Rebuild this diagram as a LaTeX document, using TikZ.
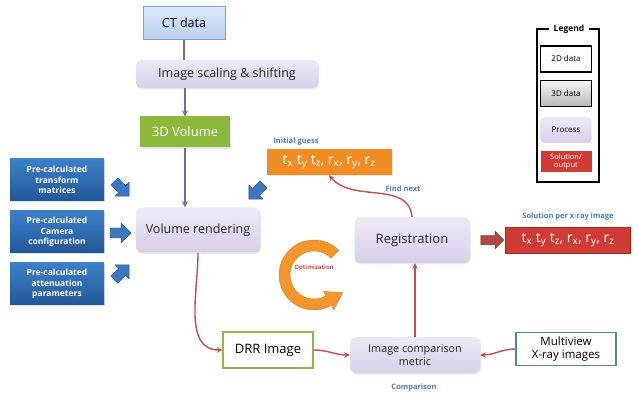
\documentclass[tikz,border=0pt]{standalone}
\usepackage{fontspec}
\setmainfont{Open Sans}
\usetikzlibrary{arrows,calc,shapes.arrows,shadows}

\definecolor{procTop}{HTML}{EEE9F6}
\definecolor{procBot}{HTML}{D8CEEA}
\definecolor{ctTop}{HTML}{DCE8F8}
\definecolor{ctBot}{HTML}{B9D0F0}
\definecolor{ctEdge}{HTML}{7EA2D4}
\definecolor{volGreen}{HTML}{8CB83C}
\definecolor{preTop}{HTML}{3D80C8}
\definecolor{preBot}{HTML}{215797}
\definecolor{arrBlue}{HTML}{3B78C0}
\definecolor{guessOrange}{HTML}{F08C22}
\definecolor{solRed}{HTML}{D13B36}
\definecolor{flowRed}{HTML}{C0504D}
\definecolor{flowPurple}{HTML}{8064A2}
\definecolor{tagBlue}{HTML}{4A7EBB}
\definecolor{drrGreen}{HTML}{8DB64C}
\definecolor{xrayBlue}{HTML}{4F81BD}
\definecolor{ringOrange}{HTML}{F4962C}

\newcommand\paramvec{t\textsubscript{x} t\textsubscript{y} t\textsubscript{z}, r\textsubscript{x}, r\textsubscript{y}, r\textsubscript{z}}

\begin{document}
\begin{tikzpicture}[x=1pt,y=1pt,
  every node/.style={inner sep=0pt, align=center},
  proc/.style={rounded corners=6pt, top color=procTop, bottom color=procBot,
    text=black!85, drop shadow={opacity=0.18, shadow xshift=1pt, shadow yshift=-1.5pt},
    font=\fontsize{12.5}{14}\selectfont},
  precalc/.style={top color=preTop, bottom color=preBot, text=white,
    minimum width=94, minimum height=42,
    drop shadow={opacity=0.25, shadow xshift=1pt, shadow yshift=-1.5pt},
    font=\bfseries\fontsize{8.5}{10.5}\selectfont},
  plain2d/.style={draw, fill=white, line width=1pt, font=\fontsize{12.5}{14}\selectfont},
  paramrow/.style={text=white, minimum width=125, minimum height=26,
    drop shadow={opacity=0.2, shadow xshift=1pt, shadow yshift=-1.5pt},
    font=\fontsize{14}{16}\selectfont},
  tag/.style={text=tagBlue, font=\bfseries\fontsize{7.5}{9}\selectfont},
  blockarrow/.style={single arrow, fill=arrBlue, draw=arrBlue!70!black,
    inner sep=4.8pt, minimum height=21, minimum width=20, single arrow head extend=5pt},
  legitem/.style={minimum width=51, minimum height=26, font=\fontsize{8}{9}\selectfont},
  redflow/.style={draw=flowRed, line width=1.4pt, -stealth},
  purpleflow/.style={draw=flowPurple, line width=1.6pt, -stealth}]
  \useasboundingbox (0,0) rectangle (639,396);

  % top chain
  \node[plain2d, draw=ctEdge, top color=ctTop, bottom color=ctBot,
    minimum width=82, minimum height=33] (ct) at (184,373) {CT data};
  \node[proc, minimum width=182, minimum height=28, rounded corners=5pt] (scaling) at (227,322) {Image scaling \& shifting};
  \node[fill=volGreen, text=white, minimum width=90, minimum height=31,
    drop shadow={opacity=0.2, shadow xshift=1pt, shadow yshift=-1.5pt},
    font=\fontsize{13}{14}\selectfont] (vol) at (185,264) {3D Volume};
  \node[proc, minimum width=124, minimum height=45] (render) at (198,166) {Volume rendering};

  % precalculated inputs
  \node[precalc] (pretrans) at (57,216) {Pre-calculated\\transform\\matrices};
  \node[precalc] (precam) at (57,164) {Pre-calculated\\Camera\\configuration};
  \node[precalc] (preatt) at (57,112) {Pre-calculated\\attenuation\\parameters};
  \node[blockarrow, rotate=-45] (arrtrans) at (120,209) {};
  \node[blockarrow] (arrcam) at (118,163) {};
  \node[blockarrow, rotate=45] (arratt) at (120,122) {};
  \node[blockarrow, rotate=-135] (arrguess) at (258,206) {};

  % registration loop
  \node[plain2d, draw=drrGreen, line width=1.3pt, minimum width=90, minimum height=36,
    font=\fontsize{13}{14}\selectfont] (drr) at (268,46) {DRR Image};
  \node[proc, minimum width=130, minimum height=36, font=\fontsize{10.8}{12.5}\selectfont] (metric) at (415,41) {Image comparison\\metric};
  \node[plain2d, draw=xrayBlue, line width=1.3pt, minimum width=100, minimum height=33,
    font=\fontsize{11.5}{12.5}\selectfont] (xray) at (566,47) {Multiview\\X-ray images};
  \node[proc, minimum width=115, minimum height=46, font=\fontsize{13}{14}\selectfont] (reg) at (412,156) {Registration};
  \node[paramrow, fill=guessOrange] (guess) at (329,234) {\paramvec};
  \node[paramrow, fill=solRed, draw=solRed!75!black] (sol) at (568,156) {\paramvec};
  \node[single arrow, fill=flowRed!90!black, draw=flowRed!60!black, inner sep=4.5pt,
    minimum height=23, minimum width=17, single arrow head extend=4pt] (arrsol) at (490,156) {};

  \node[tag, anchor=south west] (guesstag) at ([xshift=7pt, yshift=3pt]guess.north west) {Initial guess};
  \node[tag, anchor=south] (soltag) at ([yshift=6pt]sol.north) {Solution per x-ray image};
  \node[tag] (findtag) at (403,207) {Find next};
  \node[tag] (comptag) at (414,8) {Comparison};

  % optimization ring
  \coordinate (opt) at (314,121);
  \filldraw[fill=ringOrange, draw=ringOrange!85!black, line width=0.4pt]
    ($(opt)+(45:35)$) arc[start angle=45, end angle=300, radius=35]
    -- ($(opt)+(300:40)$) -- ($(opt)+(300:29.5)+(14,8)$) -- ($(opt)+(300:19)$)
    -- ($(opt)+(300:24)$) arc[start angle=300, end angle=45, radius=24] -- cycle;
  \node[text=flowRed, font=\bfseries\fontsize{6}{7}\selectfont] (opttag) at ($(opt)+(0,7)$) {Optimization};

  % connectors
  \draw[draw=flowPurple, line width=1.6pt] (ct.south) -- (ct.south |- scaling.north);
  \draw[purpleflow] (vol.north |- scaling.south) -- (vol.north);
  \draw[purpleflow] (vol.south) -- (vol.south |- render.north);
  \draw[redflow] (render.south) to[out=-90, in=180] (drr.west);
  \draw[redflow] (drr.east) to[out=0, in=180] (metric.west);
  \draw[redflow] (xray.west) to[out=180, in=0] (metric.east);
  \draw[redflow] (metric.north) -- (metric.north |- reg.south);
  \draw[redflow] (reg.north) to[out=95, in=-50] (guess.south);

  % legend
  \draw[line width=1.5pt] (537,214) rectangle (599,367);
  \node[fill=white, inner xsep=5pt, inner ysep=2pt, font=\bfseries\fontsize{8.5}{9}\selectfont] (legtitle) at (569,367) {Legend};
  \node[legitem, draw, line width=1.2pt, fill=white] (leg2d) at (566,337) {2D data};
  \node[legitem, draw, line width=1pt, top color=black!5, bottom color=black!28] (leg3d) at (566,302) {3D data};
  \node[legitem, rounded corners=4pt, top color=procTop, bottom color=procBot] (legproc) at (566,266) {Process};
  \node[legitem, fill=solRed, text=white, minimum height=21, font=\fontsize{7.5}{8}\selectfont] (legsol) at (566,234) {Solution/\\output};
\end{tikzpicture}
\end{document}
